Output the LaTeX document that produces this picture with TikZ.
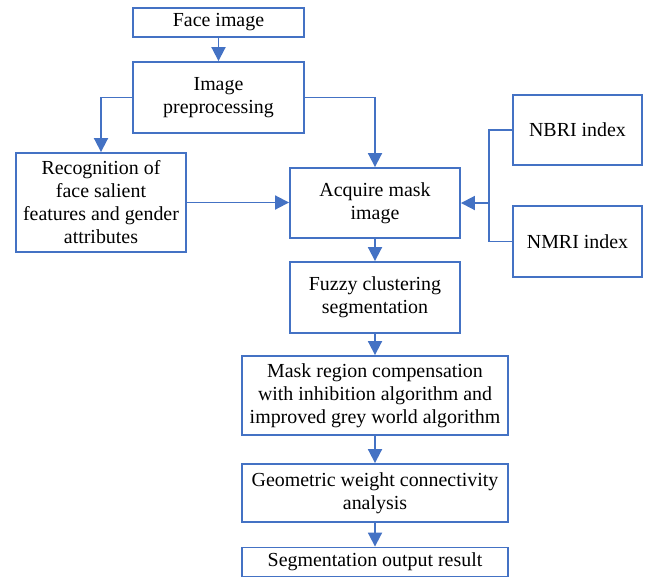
\documentclass[tikz,border=0pt]{standalone}
\usepackage{fontspec}
\setmainfont{Liberation Serif}
\usetikzlibrary{arrows.meta}
\definecolor{B}{RGB}{68, 114, 196}
\tikzset{
  box/.style={draw=B, line width=1.6pt, align=center, inner sep=1pt,
    font=\fontsize{17}{19.6}\selectfont},
  arr/.style={draw=B, line width=1.6pt, -{Triangle[width=0.42cm,length=0.42cm]}},
  lnk/.style={draw=B, line width=1.6pt}
}

\begin{document}
\begin{tikzpicture}[x=0.03cm,y=-0.03cm]
  \useasboundingbox (0,0) rectangle (647,578);
  % main column
  \node[box, minimum width=5.13cm, minimum height=0.87cm] (face) at (218.5,22.5) {Face image};
  \node[box, minimum width=5.13cm, minimum height=2.13cm] (prep) at (218.5,97.5) {Image\\preprocessing};
  \node[box, minimum width=5.1cm, minimum height=2.97cm] (recog) at (101,202.5) {Recognition of\\face salient\\features and gender\\attributes};
  \node[box, minimum width=5.1cm, minimum height=2.1cm] (acq) at (375,203) {Acquire mask\\image};
  \node[box, minimum width=3.87cm, minimum height=2.1cm] (nbri) at (577.5,130) {NBRI index};
  \node[box, minimum width=3.87cm, minimum height=2.13cm] (nmri) at (577.5,241.5) {NMRI index};
  \node[box, minimum width=5.1cm, minimum height=2.13cm] (fuzzy) at (375,297.5) {Fuzzy clustering\\segmentation};
  \node[box, minimum width=7.98cm, minimum height=2.37cm] (mask) at (375,395.5) {Mask region compensation\\with inhibition algorithm and\\improved grey world algorithm};
  \node[box, minimum width=7.98cm, minimum height=1.74cm] (geo) at (375,493) {Geometric weight connectivity\\analysis};
  \node[box, minimum width=7.98cm, minimum height=0.87cm] (seg) at (375,562) {Segmentation output result};
  \coordinate (join) at (489,203);

  % connectors
  \draw[arr] (face) -- (prep);
  \draw[arr] (prep.west) -| (recog.north);
  \draw[arr] (prep.east) -| (acq.north);
  \draw[arr] (recog.east) -- (acq.west |- recog.east);
  \draw[lnk] (nbri.west) -| (join) |- (nmri.west);
  \draw[arr] (join) -- (acq.east);
  \draw[arr] (acq) -- (fuzzy);
  \draw[arr] (fuzzy) -- (mask);
  \draw[arr] (mask) -- (geo);
  \draw[arr] (geo) -- (seg);
\end{tikzpicture}
\end{document}
